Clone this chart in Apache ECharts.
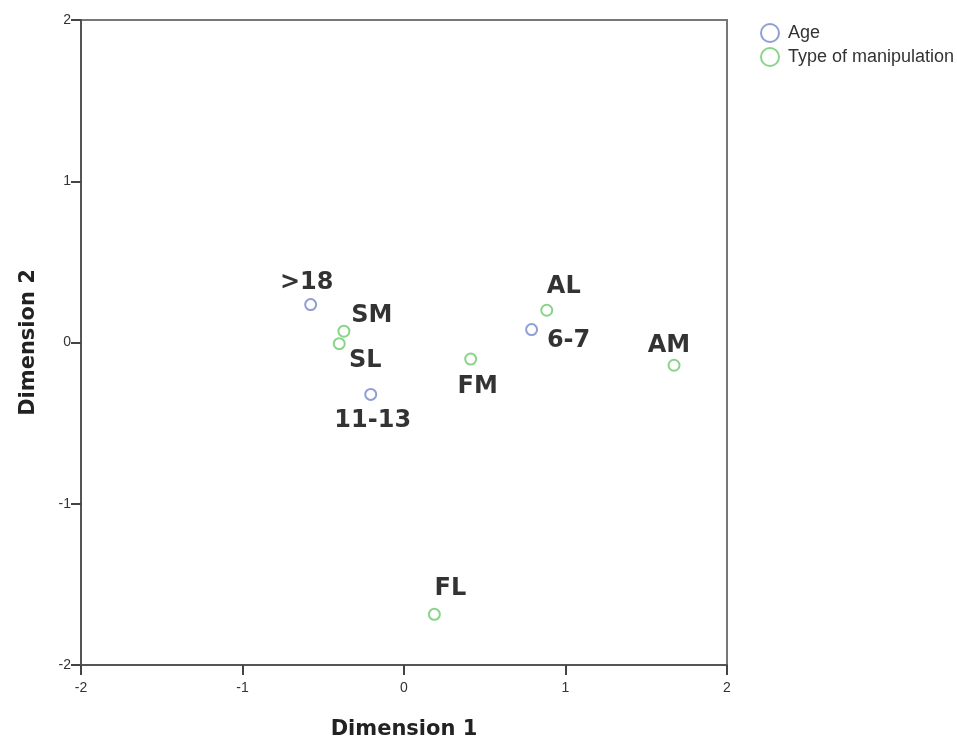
<!DOCTYPE html>
<html>
<head>
<meta charset="utf-8">
<script src="https://cdn.jsdelivr.net/npm/echarts@6/dist/echarts.min.js"></script>
<style>
  html, body { margin: 0; padding: 0; background: #fff; }
  #chart { width: 957px; height: 740px; }
</style>
</head>
<body>
<div id="chart"></div>
<script>
// Category points on the two dimensions
const ageNames = ['>18', '11-13', '6-7'];
const ageDim1 = [-0.578, -0.206, 0.790];
const ageDim2 = [0.235, -0.322, 0.080];

const manipNames = ['SM', 'SL', 'FM', 'AL', 'AM', 'FL'];
const manipDim1 = [-0.372, -0.401, 0.413, 0.884, 1.672, 0.188];
const manipDim2 = [0.070, -0.007, -0.103, 0.200, -0.141, -1.686];

const axisTicks = [-2, -1, 0, 1, 2];

// label placement relative to each point (pixels)
const labelOffsets = {
  '>18': [-4, -22], '11-13': [2, 26], '6-7': [37, 11],
  'SM': [28, -15], 'SL': [26, 17], 'FM': [7, 28],
  'AL': [17, -23], 'AM': [-5, -19], 'FL': [16, -26]
};

function buildPoints(names, d1, d2) {
  return names.map((n, i) => ({
    name: n,
    value: [d1[i], d2[i]],
    label: { offset: labelOffsets[n] }
  }));
}

const labelStyle = {
  show: true,
  position: 'inside',
  formatter: p => p.name,
  fontFamily: '"DejaVu Sans", sans-serif',
  fontWeight: 'bold',
  fontSize: 24,
  color: '#000',
  textBorderWidth: 0
};

const axisName = { fontFamily: '"DejaVu Sans", sans-serif', fontWeight: 'bold', fontSize: 21, color: '#222' };
const axisLab = { fontFamily: 'Liberation Sans, Arial, sans-serif', fontSize: 14, color: '#333',
  formatter: v => axisTicks.includes(v) ? String(v) : '' };

const chart = echarts.init(document.getElementById('chart'));
chart.setOption({
  animation: false,
  backgroundColor: '#fff',
  grid: {
    left: 81, right: 230, top: 20, bottom: 75,
    outerBoundsMode: 'none', containLabel: false,
    show: true, borderColor: '#777', borderWidth: 2, backgroundColor: 'transparent'
  },
  legend: {
    orient: 'vertical',
    left: 755, top: 18,
    itemWidth: 18, itemHeight: 18, itemGap: 4,
    icon: 'circle',
    textStyle: { fontFamily: 'Liberation Sans, Arial, sans-serif', fontSize: 18, color: '#333', padding: [0, 0, 0, 4] },
    data: [
      { name: 'Age', itemStyle: { color: 'transparent', borderColor: '#7486cc', borderWidth: 2 } },
      { name: 'Type of manipulation', itemStyle: { color: 'transparent', borderColor: '#6cc96c', borderWidth: 2 } }
    ]
  },
  xAxis: {
    type: 'value', min: -2, max: 2, interval: 1,
    name: 'Dimension 1', nameLocation: 'middle', nameGap: 54,
    nameTextStyle: axisName,
    axisLine: { show: true, onZero: false, lineStyle: { color: '#555', width: 2 } },
    axisTick: { show: true, length: 10, lineStyle: { color: '#444', width: 2 } },
    axisLabel: Object.assign({ margin: 16 }, axisLab),
    splitLine: { show: false }
  },
  yAxis: {
    type: 'value', min: -2, max: 2, interval: 1,
    name: 'Dimension 2', nameLocation: 'middle', nameGap: 42,
    nameTextStyle: axisName,
    axisLine: { show: true, onZero: false, lineStyle: { color: '#555', width: 2 } },
    axisTick: { show: true, length: 10, lineStyle: { color: '#444', width: 2 } },
    axisLabel: Object.assign({ margin: 10 }, axisLab),
    splitLine: { show: false }
  },
  series: [
    {
      name: 'Age', type: 'scatter', symbol: 'circle', symbolSize: 11,
      itemStyle: { color: '#fff', borderColor: '#7486cc', borderWidth: 2 },
      label: labelStyle,
      data: buildPoints(ageNames, ageDim1, ageDim2)
    },
    {
      name: 'Type of manipulation', type: 'scatter', symbol: 'circle', symbolSize: 11,
      itemStyle: { color: '#fff', borderColor: '#6cc96c', borderWidth: 2 },
      label: labelStyle,
      data: buildPoints(manipNames, manipDim1, manipDim2)
    }
  ]
});
</script>
</body>
</html>
